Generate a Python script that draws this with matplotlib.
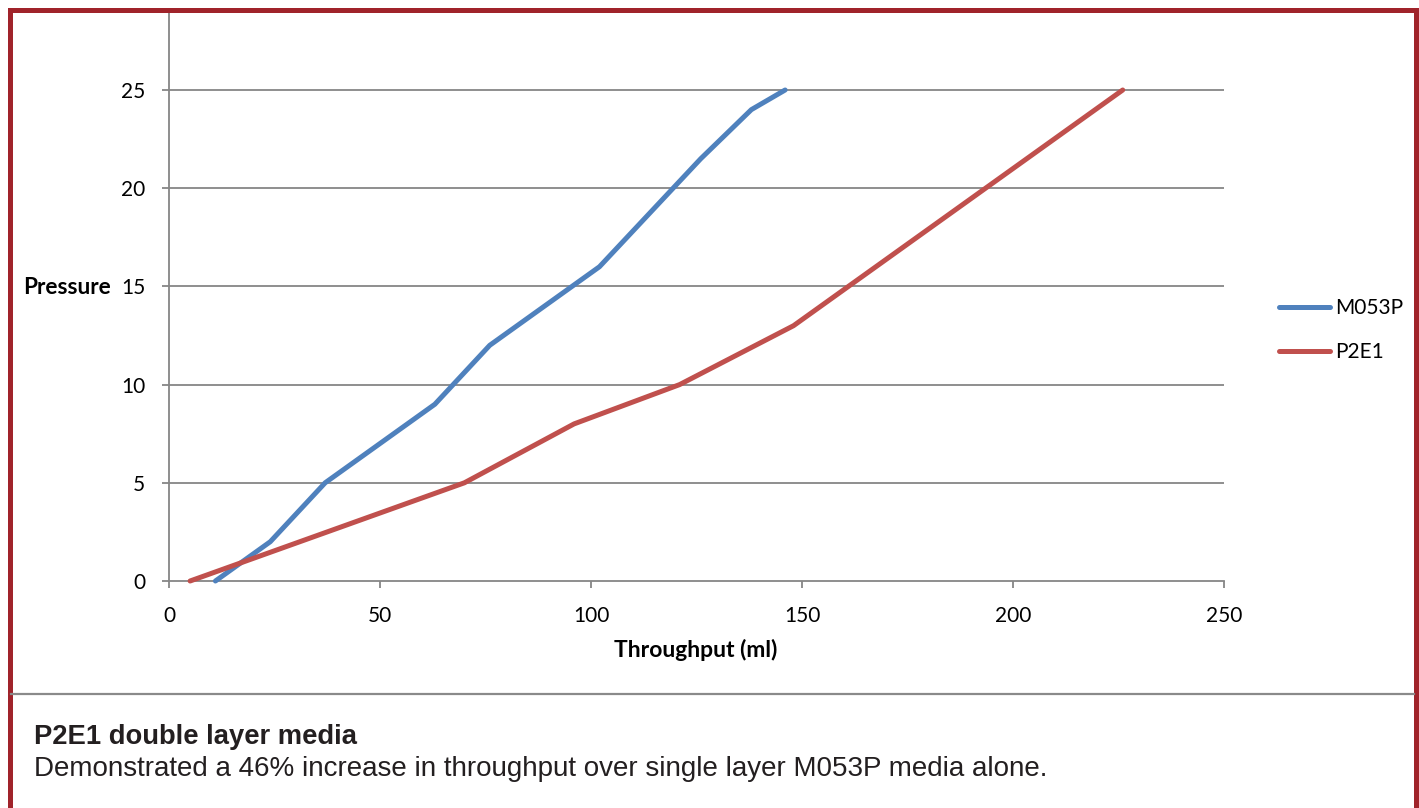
import matplotlib
matplotlib.use("Agg")
import matplotlib.pyplot as plt
from matplotlib.patches import Rectangle
from matplotlib.lines import Line2D

# ---- data ----
m053p_x = [11, 24, 37, 63, 76, 102, 126, 138, 146]
m053p_y = [0, 2, 5, 9, 12, 16, 21.5, 24, 25]
p2e1_x = [5, 70, 96, 121, 148, 226]
p2e1_y = [0, 5, 8, 10, 13, 25]
x_ticks = [0, 50, 100, 150, 200, 250]
y_ticks = [0, 5, 10, 15, 20, 25]
series_names = ["M053P", "P2E1"]
x_label = "Throughput (ml)"
y_label = "Pressure"
caption_title = "P2E1 double layer media"
caption_body = "Demonstrated a 46% increase in throughput over single layer M053P media alone."

W, H = 1419, 808
DPI = 100
fig = plt.figure(figsize=(W / DPI, H / DPI), dpi=DPI)
fig.patch.set_facecolor("white")

def fx(x):
    return x / W

def fy(y):
    return (H - y) / H

BLUE = "#4F81BD"
RED = "#C0504D"
GRID = "#868686"
FONT = "Lato"

ax_left, ax_right, ax_bottom, ax_top = 169, 1224, 581, 12
ax = fig.add_axes([fx(ax_left), fy(ax_bottom), fx(ax_right) - fx(ax_left), fy(ax_top) - fy(ax_bottom)])
px_per_unit = (581 - 90) / 25.0
ymax = (ax_bottom - ax_top) / px_per_unit
ax.set_xlim(0, 250)
ax.set_ylim(0, ymax)
ax.set_xticks(x_ticks)
ax.set_yticks(y_ticks)
ax.set_xticklabels([str(v) for v in x_ticks], fontname=FONT, fontsize=15)
ax.set_yticklabels([str(v) for v in y_ticks], fontname=FONT, fontsize=15)
ax.tick_params(axis="both", length=5, width=1.3, color=GRID, direction="out", labelcolor="black")
ax.tick_params(axis="y", pad=12)
ax.tick_params(axis="x", pad=13)

for s in ["top", "right"]:
    ax.spines[s].set_visible(False)
for s in ["left", "bottom"]:
    ax.spines[s].set_color(GRID)
    ax.spines[s].set_linewidth(1.3)

for yv in y_ticks[1:]:
    ax.axhline(yv, color=GRID, lw=1.3, zorder=1)

l1, = ax.plot(m053p_x, m053p_y, color=BLUE, lw=3.6, solid_capstyle="round", solid_joinstyle="round", zorder=3, clip_on=False)
l2, = ax.plot(p2e1_x, p2e1_y, color=RED, lw=3.6, solid_capstyle="round", solid_joinstyle="round", zorder=3, clip_on=False)

leg = fig.legend([l1, l2], series_names, loc="center left",
                 bbox_to_anchor=(fx(1279), fy(330)), frameon=False,
                 prop={"family": FONT, "size": 15}, handlelength=2.45,
                 handletextpad=0.25, labelspacing=1.15, borderpad=0, borderaxespad=0)

fig.text(fx(23), fy(288), y_label, fontname=FONT, fontweight="bold", fontsize=16.3,
         ha="left", va="center")
fig.text(fx(696), fy(650), x_label, fontname=FONT, fontweight="bold", fontsize=16.5,
         ha="center", va="center")

# separator line
fig.add_artist(Line2D([fx(11), fx(1414)], [fy(694), fy(694)], color="#8a8a8a", lw=1.6,
                      transform=fig.transFigure))

# caption
fig.text(fx(34), fy(744), caption_title, fontname="Liberation Sans", fontweight="bold",
         fontsize=19.7, color="#231F20", ha="left", va="baseline")
fig.text(fx(34), fy(776), caption_body, fontname="Liberation Sans",
         fontsize=20, color="#231F20", ha="left", va="baseline")

# red border
bw = 5
rect = Rectangle((fx(7 + bw / 2), fy(830)), fx(1416) - fx(7 + bw / 2), fy(7 + bw / 2) - fy(830),
                 transform=fig.transFigure, fill=False, edgecolor="#A0232A",
                 lw=bw * 72 / DPI, joinstyle="miter", clip_on=False)
fig.add_artist(rect)

fig.savefig("out.png", dpi=DPI)
